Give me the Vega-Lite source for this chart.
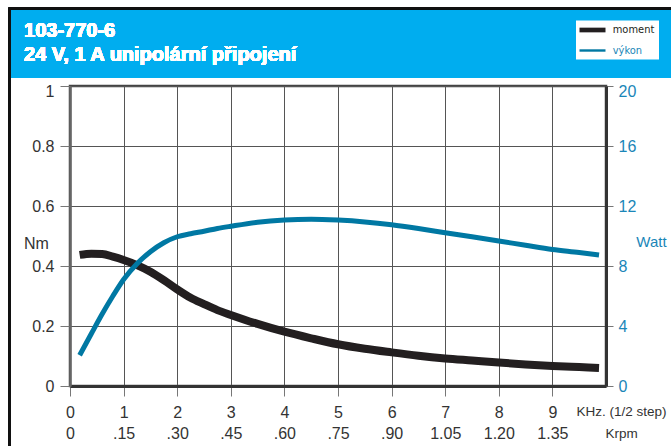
{
  "$schema": "https://vega.github.io/schema/vega-lite/v6.json",
  "width": 536,
  "height": 300,
  "autosize": {"type": "none"},
  "padding": {"left": 70, "top": 86, "right": 65, "bottom": 60},
  "background": "white",
  "config": {
    "font": "Liberation Sans",
    "view": {"stroke": "#444", "strokeWidth": 2.5}
  },
  "data": {
    "values": [
      {"khz": 0.18, "moment": 0.437, "watt": 2.05},
      {"khz": 0.4, "moment": 0.441, "watt": 3.5},
      {"khz": 0.6, "moment": 0.44, "watt": 4.8},
      {"khz": 0.8, "moment": 0.431, "watt": 6.0},
      {"khz": 1.0, "moment": 0.42, "watt": 7.1},
      {"khz": 1.25, "moment": 0.403, "watt": 8.15},
      {"khz": 1.5, "moment": 0.381, "watt": 8.95},
      {"khz": 1.75, "moment": 0.353, "watt": 9.55},
      {"khz": 2.0, "moment": 0.322, "watt": 9.95},
      {"khz": 2.25, "moment": 0.294, "watt": 10.15},
      {"khz": 2.5, "moment": 0.273, "watt": 10.32},
      {"khz": 2.75, "moment": 0.253, "watt": 10.5},
      {"khz": 3.0, "moment": 0.237, "watt": 10.65},
      {"khz": 3.5, "moment": 0.207, "watt": 10.92},
      {"khz": 4.0, "moment": 0.181, "watt": 11.07},
      {"khz": 4.5, "moment": 0.159, "watt": 11.12},
      {"khz": 5.0, "moment": 0.139, "watt": 11.06},
      {"khz": 5.5, "moment": 0.124, "watt": 10.94},
      {"khz": 6.0, "moment": 0.112, "watt": 10.75},
      {"khz": 6.5, "moment": 0.101, "watt": 10.5},
      {"khz": 7.0, "moment": 0.092, "watt": 10.22},
      {"khz": 7.5, "moment": 0.085, "watt": 9.95},
      {"khz": 8.0, "moment": 0.078, "watt": 9.67},
      {"khz": 8.5, "moment": 0.072, "watt": 9.38},
      {"khz": 9.0, "moment": 0.067, "watt": 9.1},
      {"khz": 9.5, "moment": 0.063, "watt": 8.9},
      {"khz": 9.87, "moment": 0.06, "watt": 8.73}
    ]
  },
  "layer": [
    {
      "layer": [
        {
          "mark": {"type": "rect", "color": "#00adef", "clip": false},
          "encoding": {
            "x": {"datum": -1.14, "type": "quantitative", "scale": {"domain": [0, 10], "nice": false}},
            "x2": {"datum": 11.3},
            "y": {"datum": 1.2567, "type": "quantitative", "scale": {"domain": [0, 1], "nice": false}},
            "y2": {"datum": 1.0283}
          }
        },
        {
          "mark": {"type": "rule", "color": "#111", "strokeWidth": 2, "clip": false},
          "encoding": {
            "x": {"datum": -1.14, "type": "quantitative", "scale": {"domain": [0, 10], "nice": false}},
            "x2": {"datum": 11.3},
            "y": {"datum": 1.259, "type": "quantitative", "scale": {"domain": [0, 1], "nice": false}}
          }
        },
        {
          "mark": {"type": "rule", "color": "#111", "strokeWidth": 2.2, "clip": false},
          "encoding": {
            "x": {"datum": -1.13, "type": "quantitative", "scale": {"domain": [0, 10], "nice": false}},
            "y": {"datum": 1.26, "type": "quantitative", "scale": {"domain": [0, 1], "nice": false}},
            "y2": {"datum": -0.25}
          }
        },
        {
          "mark": {"type": "text", "text": "103-770-6", "font": "Liberation Sans", "fontSize": 20, "fontWeight": "bold", "color": "white", "align": "left", "baseline": "alphabetic", "clip": false},
          "encoding": {
            "x": {"datum": -0.858, "type": "quantitative", "scale": {"domain": [0, 10], "nice": false}},
            "y": {"datum": 1.1633, "type": "quantitative", "scale": {"domain": [0, 1], "nice": false}}
          }
        },
        {
          "mark": {"type": "text", "text": "24 V, 1 A unipolární připojení", "font": "Liberation Sans", "fontSize": 20, "fontWeight": "bold", "color": "white", "align": "left", "baseline": "alphabetic", "clip": false},
          "encoding": {
            "x": {"datum": -0.858, "type": "quantitative", "scale": {"domain": [0, 10], "nice": false}},
            "y": {"datum": 1.0833, "type": "quantitative", "scale": {"domain": [0, 1], "nice": false}}
          }
        },
        {
          "mark": {"type": "line", "strokeWidth": 8, "interpolate": "monotone", "strokeCap": "butt"},
          "encoding": {
            "x": {
              "field": "khz",
              "type": "quantitative",
              "scale": {"domain": [0, 10], "nice": false},
              "axis": {
                "values": [0, 1, 2, 3, 4, 5, 6, 7, 8, 9],
                "grid": true,
                "gridColor": "#555",
                "gridWidth": 1,
                "domainColor": "#333",
                "domainWidth": 3,
                "tickColor": "#777",
                "tickSize": 10,
                "tickWidth": 1,
                "labelFontSize": 16,
                "labelColor": "#333",
                "labelPadding": 8,
                "labelLineHeight": 21.6,
                "labelFlush": false,
                "labelExpr": "[datum.label, datum.value == 0 ? '0' : (datum.value < 7 ? substring(format(datum.value * 0.15, '.2f'), 1) : format(datum.value * 0.15, '.2f'))]",
                "title": ["KHz. (1/2 step)", "Krpm"],
                "titleX": 551,
                "titleY": 29.5,
                "titleAlign": "center",
                "titleAnchor": null,
                "titleBaseline": "alphabetic",
                "titleFont": "Liberation Sans",
                "titleFontSize": 13.5,
                "titleFontWeight": "normal",
                "titleColor": "#333",
                "titleLineHeight": 21.6
              }
            },
            "y": {
              "field": "moment",
              "type": "quantitative",
              "scale": {"domain": [0, 1], "nice": false},
              "axis": {
                "values": [0, 0.2, 0.4, 0.6, 0.8, 1],
                "format": "~g",
                "grid": true,
                "gridColor": "#555",
                "gridWidth": 1,
                "domainColor": "#666",
                "domainWidth": 2.5,
                "tickColor": "#777",
                "tickSize": 10,
                "labelFontSize": 16,
                "labelColor": "#333",
                "labelPadding": 6,
                "labelFlush": false,
                "labelOffset": {"condition": {"test": "datum.value == 1", "value": 5}, "value": 0},
                "title": "Nm",
                "titleAngle": 0,
                "titleX": -34,
                "titleY": 162,
                "titleAlign": "center",
                "titleBaseline": "alphabetic",
                "titleFontSize": 16,
                "titleFontWeight": "normal",
                "titleColor": "#333"
              }
            },
            "color": {
              "datum": "moment",
              "type": "nominal",
              "scale": {"domain": ["moment", "výkon"], "range": ["#231f20", "#0078a3"]},
              "legend": {
                "title": null,
                "orient": "none",
                "legendX": 506,
                "legendY": -65.5,
                "direction": "vertical",
                "fillColor": "white",
                "padding": 4,
                "symbolType": "M-0.6,0H2.0",
                "rowPadding": 4.5,
                "labelOffset": 21.7,
                "labelFont": "DejaVu Sans Condensed",
                "labelFontSize": 11,
                "zindex": 1,
                "encode": {
                  "symbols": {
                    "update": {
                      "size": {"value": 400},
                      "strokeWidth": {"signal": "datum.value === 'moment' ? 4.7 : 2.4"},
                      "fill": {"value": "transparent"},
                      "strokeCap": {"value": "butt"}
                    }
                  },
                  "labels": {
                    "update": {
                      "fill": {"signal": "datum.value === 'moment' ? '#231f20' : '#1a86b8'"}
                    }
                  }
                }
              }
            }
          }
        }
      ]
    },
    {
      "mark": {"type": "line", "strokeWidth": 5, "interpolate": "monotone", "strokeCap": "butt"},
      "encoding": {
        "x": {"field": "khz", "type": "quantitative", "scale": {"domain": [0, 10], "nice": false}},
        "y": {
          "field": "watt",
          "type": "quantitative",
          "scale": {"domain": [0, 20], "nice": false},
          "axis": {
            "orient": "right",
            "values": [0, 4, 8, 12, 16, 20],
            "grid": false,
            "domainColor": "#333",
            "domainWidth": 3,
            "tickColor": "#777",
            "tickSize": 7,
            "labelFontSize": 16,
            "labelColor": "#1a86b8",
            "labelPadding": 5,
            "labelFlush": false,
            "labelOffset": {"condition": {"test": "datum.value == 20", "value": 5}, "value": 0},
            "title": "Watt",
            "titleAngle": 0,
            "titleX": 45,
            "titleY": 160.5,
            "titleAlign": "center",
            "titleBaseline": "alphabetic",
            "titleFontSize": 15,
            "titleFontWeight": "normal",
            "titleColor": "#1a86b8"
          }
        },
        "color": {"datum": "výkon", "type": "nominal"}
      }
    }
  ],
  "resolve": {"scale": {"y": "independent"}}
}
